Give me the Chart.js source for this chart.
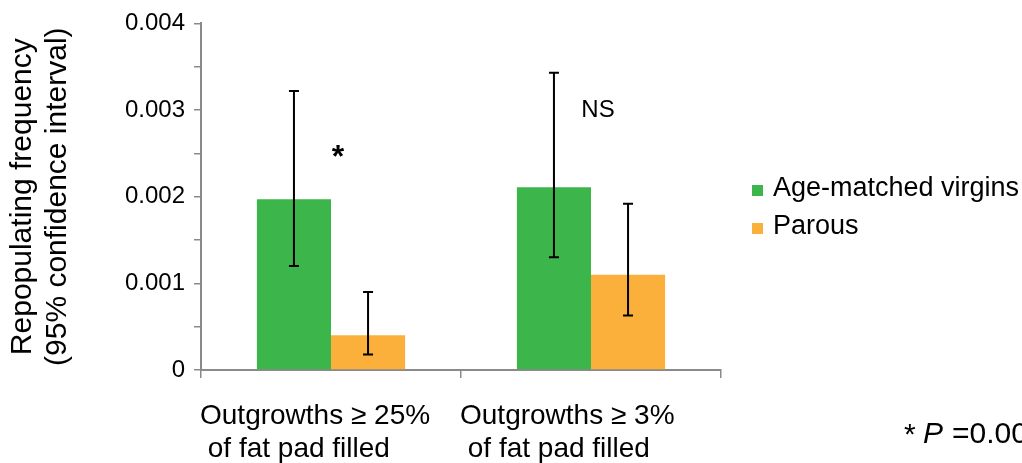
<!DOCTYPE html>
<html>
<head>
<meta charset="utf-8">
<script src="https://cdn.jsdelivr.net/npm/chart.js@4"></script>
<style>
  html, body { margin: 0; padding: 0; background: #fff; }
  #wrap { width: 1022px; height: 463px; }
</style>
</head>
<body>
<div id="wrap"><canvas id="chart" width="1022" height="463"></canvas></div>
<script>
// Chart data
const categories = [['Outgrowths \u2265 25%', ' of fat pad filled'], ['Outgrowths \u2265 3%', ' of fat pad filled']];
const seriesNames = ['Age-matched virgins', 'Parous'];
const virgins = [0.00197, 0.00211];
const virginsLow = [0.00120, 0.00130];
const virginsHigh = [0.00322, 0.00343];
const parous = [0.00040, 0.00110];
const parousLow = [0.00018, 0.00063];
const parousHigh = [0.00090, 0.00192];
const yTicks = [0, 0.001, 0.002, 0.003, 0.004];
const marks = ['*', 'NS'];
const markValues = [0.0025, 0.003];

// Colors and fonts
var green = '#3cb54a';
var orange = '#fbb03b';
var axisColor = '#8a8a8a';
var fontFamily = '"Liberation Sans", Arial, sans-serif';

// error bars, legend, annotations
const extras = {
    id: 'extras',
    afterDatasetsDraw(chart) {
        const ctx = chart.ctx;
        const y = chart.scales.y;
        const x = chart.scales.x;
        const lows = [virginsLow, parousLow];
        const highs = [virginsHigh, parousHigh];
        ctx.save();
        ctx.strokeStyle = '#000';
        ctx.lineWidth = 2;
        chart.data.datasets.forEach((ds, d) => {
            chart.getDatasetMeta(d).data.forEach((bar, i) => {
                const top = y.getPixelForValue(highs[d][i]);
                const bot = y.getPixelForValue(lows[d][i]);
                ctx.beginPath();
                ctx.moveTo(bar.x, top); ctx.lineTo(bar.x, bot);
                ctx.moveTo(bar.x - 5, top); ctx.lineTo(bar.x + 5, top);
                ctx.moveTo(bar.x - 5, bot); ctx.lineTo(bar.x + 5, bot);
                ctx.stroke();
            });
        });

        // significance marks
        ctx.fillStyle = '#000';
        ctx.textAlign = 'center';
        ctx.textBaseline = 'middle';
        marks.forEach((m, i) => {
            ctx.font = (m === '*' ? 'bold 32px ' : '24px ') + fontFamily;
            ctx.fillText(m, x.getPixelForValue(i) + 7, y.getPixelForValue(markValues[i]) + (m === '*' ? 5 : 0));
        });

        // legend
        ctx.textAlign = 'left';
        ctx.font = '27px ' + fontFamily;
        chart.data.datasets.forEach((ds, d) => {
            const ly = 189 + d * 38;
            ctx.fillStyle = ds.backgroundColor;
            ctx.fillRect(752, ly - 4, 11, 11);
            ctx.fillStyle = '#000';
            ctx.fillText(ds.label, 773, ly);
        });

        // footnote
        ctx.textBaseline = 'alphabetic';
        ctx.font = '30px ' + fontFamily;
        ctx.fillText('*', 904, 444);
        ctx.font = 'italic 30px ' + fontFamily;
        ctx.fillText('P', 923, 443);
        ctx.font = '30px ' + fontFamily;
        ctx.fillText('=0.00', 952, 443);
        ctx.restore();
    }
};

const data = {
    labels: categories,
    datasets: [
        { label: seriesNames[0], data: virgins, backgroundColor: green },
        { label: seriesNames[1], data: parous, backgroundColor: orange }
    ]
};

const config = {
    type: 'bar',
    data: data,
    options: {
        responsive: false,
        animation: false,
        layout: { padding: { top: 18, right: 301, left: 0, bottom: 0 } },
        datasets: { bar: { categoryPercentage: 0.57, barPercentage: 1.0 } },
        plugins: {
            legend: { display: false },
            tooltip: { enabled: false }
        },
        scales: {
            x: {
                afterFit(scale) { scale.height = 93; },
                grid: { offset: true, drawOnChartArea: false, tickLength: 8, color: axisColor, lineWidth: 1.5 },
                border: { color: axisColor, width: 2 },
                ticks: {
                    color: '#000',
                    font: { family: fontFamily, size: 28, lineHeight: 1.2 },
                    padding: 21,
                    align: 'start',
                    labelOffset: -131,
                    maxRotation: 0,
                    autoSkip: false
                }
            },
            y: {
                min: 0,
                max: 0.004,
                afterFit(scale) { scale.width = 201; },
                grid: { drawOnChartArea: false, tickLength: 7, color: axisColor, lineWidth: 1.5 },
                border: { color: axisColor, width: 2 },
                ticks: {
                    stepSize: 0.0005,
                    color: '#000',
                    padding: 9,
                    font: { family: fontFamily, size: 24 },
                    callback: function (v) {
                        const hit = yTicks.find(t => Math.abs(t - v) < 1e-9);
                        if (hit === undefined) return '';
                        return hit === 0 ? '0' : hit.toFixed(3);
                    }
                },
                title: {
                    display: true,
                    text: ['Repopulating frequency', '(95% confidence interval)'],
                    color: '#000',
                    font: { family: fontFamily, size: 30, lineHeight: 1.17 },
                    padding: { top: 5, bottom: 0 }
                }
            }
        }
    },
    plugins: [extras]
};

var myChart = new Chart(document.getElementById('chart'), config);
</script>
</body>
</html>
